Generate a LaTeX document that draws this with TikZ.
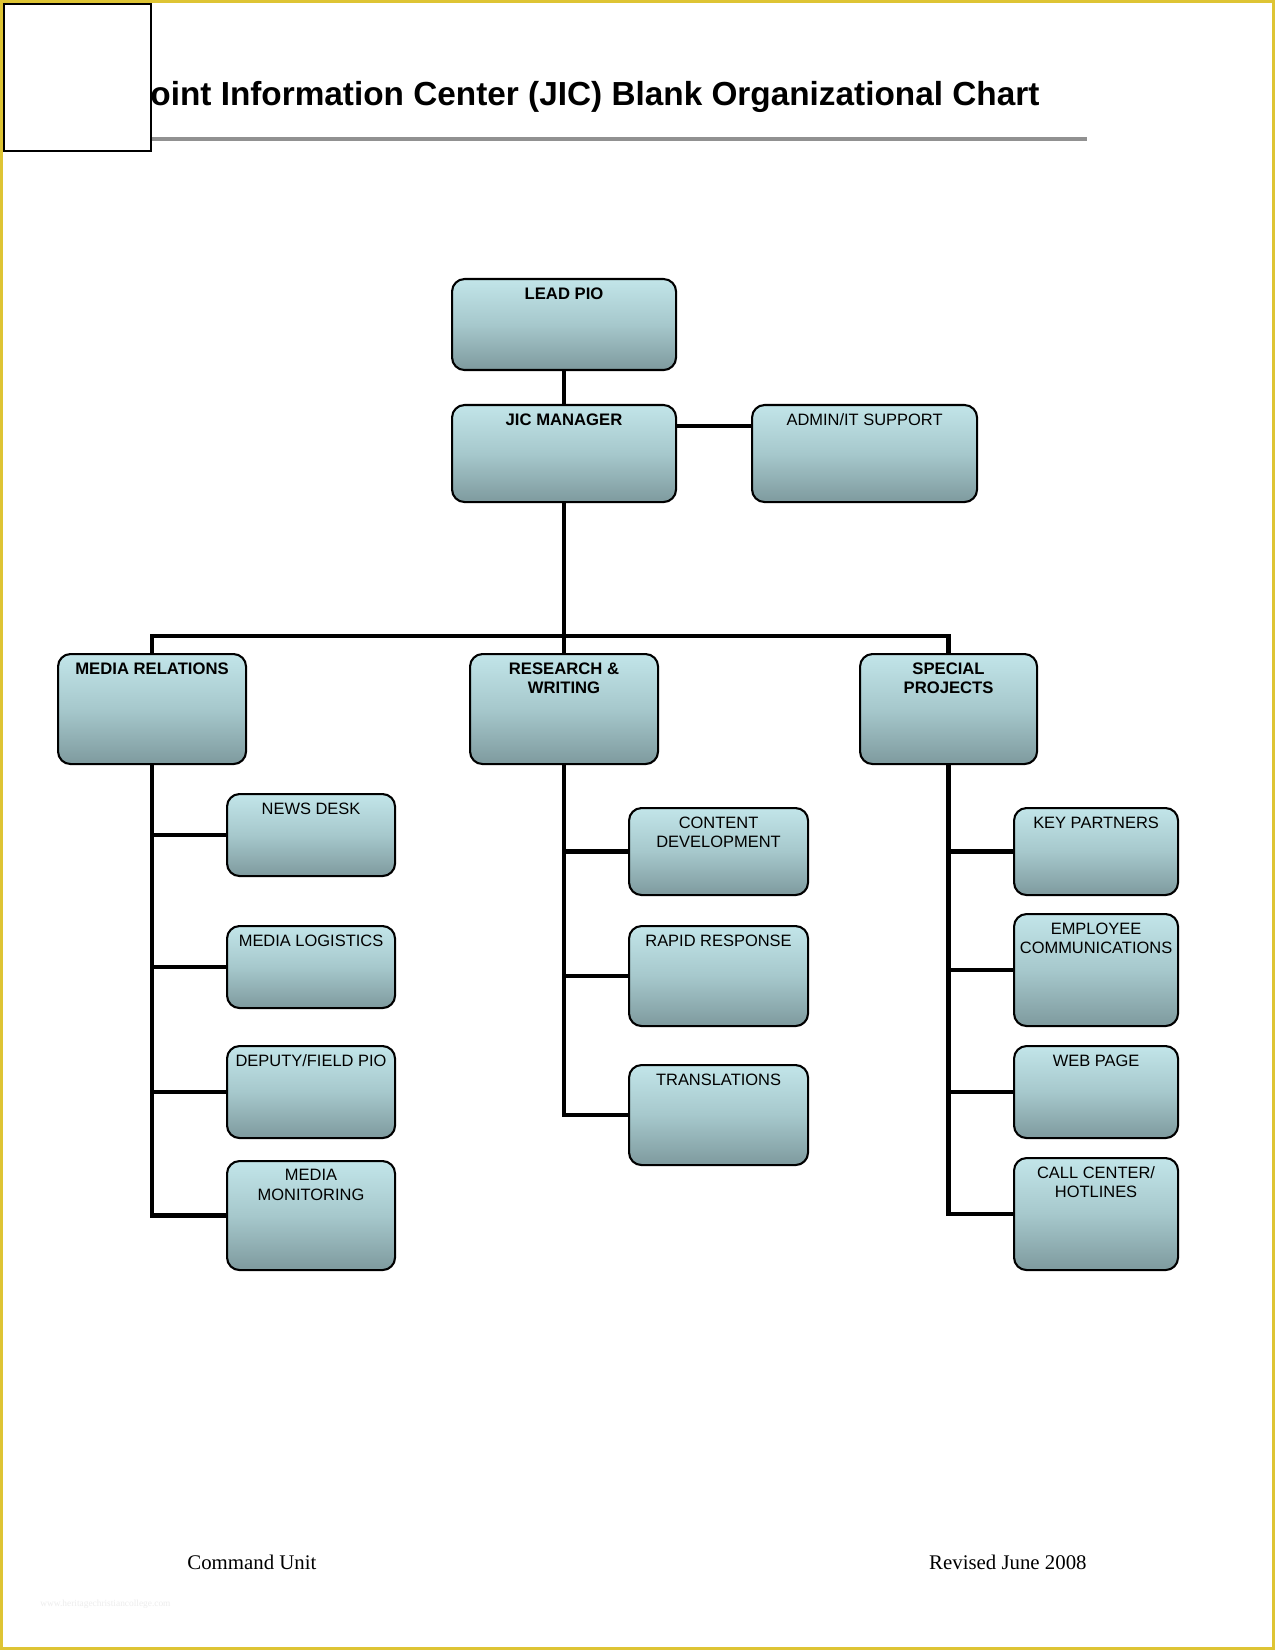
\documentclass[tikz,border=0pt]{standalone}
\usepackage{fontspec}
\setmainfont{Liberation Sans}
\newfontfamily\serifft{Liberation Serif}
\usetikzlibrary{calc}
\definecolor{boxtop}{RGB}{194,229,233}
\definecolor{boxmid}{RGB}{166,200,204}
\definecolor{boxbot}{RGB}{126,154,158}
\definecolor{pageborder}{RGB}{222,196,52}
\definecolor{ruleline}{RGB}{145,145,145}
\tikzset{
  orgbox/.style={draw=black, line width=1pt, rounded corners=6pt,
    top color=boxtop, bottom color=boxbot, middle color=boxmid,
    inner sep=0pt, anchor=north west},
  lbl/.style={font=\fontsize{7.9}{9.2}\selectfont, align=center, inner sep=0pt, anchor=north},
  lblb/.style={lbl, font=\fontsize{8}{9.2}\selectfont\bfseries},
  conn/.style={line width=2.2pt, line cap=butt},
}
% box: name, x1, y1, x2, y2, style, text
\newcommand{\orgnode}[7]{%
  \node[orgbox, minimum width={(#4-#2)*0.48pt}, minimum height={(#5-#3)*0.48pt},
    label={[#6, yshift=-4.4pt]north:#7}] (#1) at (#2,#3) {};}
\begin{document}
\begin{tikzpicture}[x=0.48pt, y=-0.48pt]
\useasboundingbox (0,0) rectangle (1275,1650);
\fill[white] (0,0) rectangle (1275,1650);
\draw[pageborder, line width=1.6pt] (1.6,1.6) rectangle (1273.4,1648.4);
% title
\node[anchor=base west, inner sep=0pt, font=\fontsize{16}{19}\selectfont\bfseries] (title) at (150,106) {oint Information Center (JIC) Blank Organizational Chart};
\coordinate (ruleL) at (150,139);
\coordinate (ruleR) at (1087,139);
\draw[ruleline, line width=1.5pt] (ruleL) -- (ruleR);
\node[draw=black, fill=white, line width=0.8pt, inner sep=0pt, anchor=north west,
  minimum width={147*0.48pt}, minimum height={147*0.48pt}] (corner) at (3,3) {};
% boxes
\orgnode{lead}{451}{278}{675}{369}{lblb}{LEAD PIO}
\orgnode{jic}{451}{404}{675}{501}{lblb}{JIC MANAGER}
\orgnode{admin}{751}{404}{976}{501}{lbl}{ADMIN/IT SUPPORT}
\orgnode{media}{57}{653}{245}{763}{lblb}{MEDIA RELATIONS}
\orgnode{research}{469}{653}{657}{763}{lblb}{RESEARCH \&\\WRITING}
\orgnode{special}{859}{653}{1036}{763}{lblb}{SPECIAL\\PROJECTS}
\orgnode{news}{226}{793}{394}{875}{lbl}{NEWS DESK}
\orgnode{logistics}{226}{925}{394}{1007}{lbl}{MEDIA LOGISTICS}
\orgnode{deputy}{226}{1045}{394}{1137}{lbl}{DEPUTY/FIELD PIO}
\orgnode{monitor}{226}{1160}{394}{1269}{lbl}{MEDIA\\MONITORING}
\orgnode{content}{628}{807}{807}{894}{lbl}{CONTENT\\DEVELOPMENT}
\orgnode{rapid}{628}{925}{807}{1025}{lbl}{RAPID RESPONSE}
\orgnode{transl}{628}{1064}{807}{1164}{lbl}{TRANSLATIONS}
\orgnode{partners}{1013}{807}{1177}{894}{lbl}{KEY PARTNERS}
\orgnode{employee}{1013}{913}{1177}{1025}{lbl}{EMPLOYEE\\COMMUNICATIONS}
\orgnode{web}{1013}{1045}{1177}{1137}{lbl}{WEB PAGE}
\orgnode{call}{1013}{1157}{1177}{1269}{lbl}{CALL CENTER/\\HOTLINES}
% connectors
\coordinate (bar) at (563,636);
\draw[conn] (lead.south) -- (jic.north);
\draw[conn] ([yshift=-10.5pt]jic.north east) -- ([yshift=-10.5pt]admin.north west);
\draw[conn] (jic.south) -- (jic.south |- research.north);
\draw[conn] (media.north) |- (bar) -| (special.north);
\draw[conn] (media.south) |- (monitor.west);
\draw[conn] (media.south |- news.west) -- (news.west);
\draw[conn] (media.south |- logistics.west) -- (logistics.west);
\draw[conn] (media.south |- deputy.west) -- (deputy.west);
\draw[conn] (research.south) |- (transl.west);
\draw[conn] (research.south |- content.west) -- (content.west);
\draw[conn] (research.south |- rapid.west) -- (rapid.west);
\draw[conn] (special.south) |- (call.west);
\draw[conn] (special.south |- partners.west) -- (partners.west);
\draw[conn] (special.south |- employee.west) -- (employee.west);
\draw[conn] (special.south |- web.west) -- (web.west);
% footer
\node[anchor=base west, inner sep=0pt, font=\serifft\fontsize{10}{12}\selectfont] (cmd) at (187,1569) {Command Unit};
\node[anchor=base east, inner sep=0pt, font=\serifft\fontsize{10}{12}\selectfont] (rev) at (1087,1569) {Revised June 2008};
\node[anchor=base west, inner sep=0pt, text=black!7, font=\serifft\fontsize{4.5}{5}\selectfont] (wm) at (40,1606) {www.heritagechristiancollege.com};
\end{tikzpicture}
\end{document}
